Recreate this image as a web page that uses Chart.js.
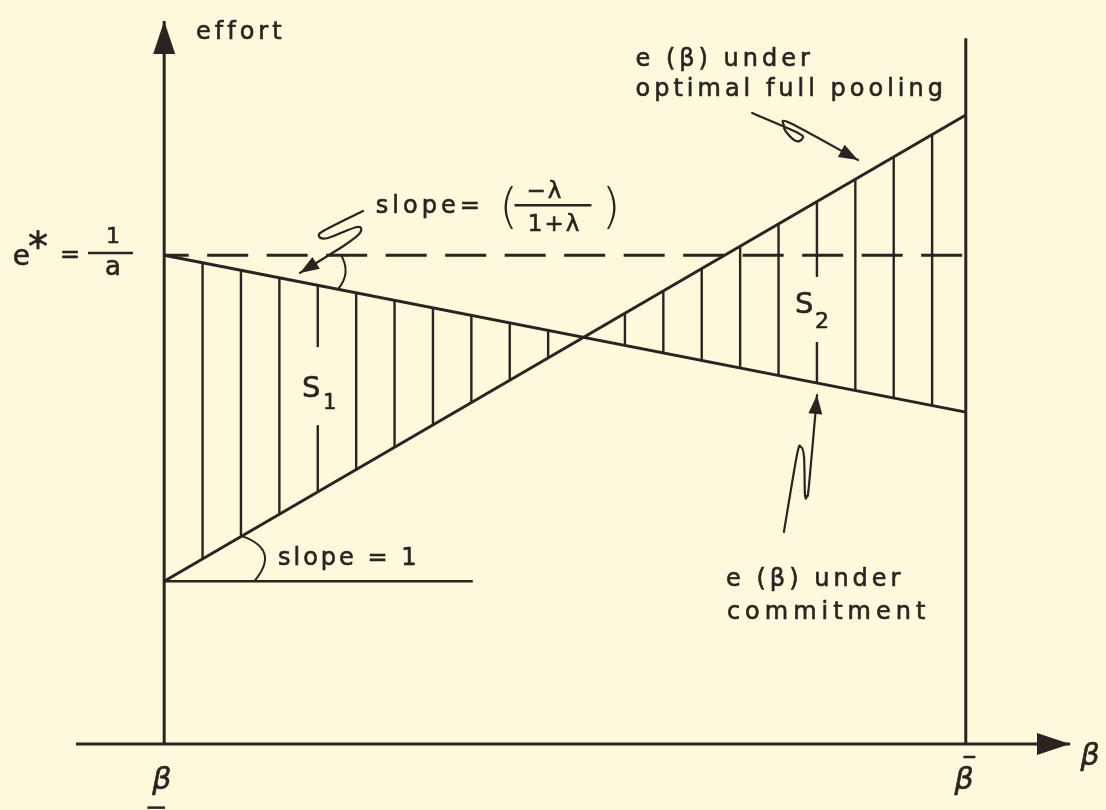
<!DOCTYPE html>
<html><head><meta charset="utf-8">
<script src="https://cdn.jsdelivr.net/npm/chart.js@4.4.0/dist/chart.umd.min.js"></script>
<style>html,body{margin:0;padding:0;background:#fcf9dc;}canvas{display:block;}</style>
</head><body>
<canvas id="c" width="1106" height="810"></canvas>
<script>
// ---------- data (β on x, effort on y) ----------
const betaRange     = [0, 100];        // β̲ … β̄
const eStarLevel    = [67.6, 67.6];    // e* = 1/a  (dashed)
const commitment    = [67.6, 45.9];    // e(β) under commitment, at β̲ and β̄
const pooling       = [22.5, 87.0];    // e(β) under optimal full pooling, at β̲ and β̄
const slopeOneBaseX = [0, 38.5];       // horizontal reference for "slope = 1"
const slopeOneBaseY = [22.5, 22.5];
const xAxisExtent   = [-11, 113];
const yAxisTop      = 100;
const rightWallTop  = 97.6;
const hatchStep     = 4.79;

// ---------- annotations (data units) ----------
const textLabels = [
  {t:'effort', x:3.97, y:97.5},
  {t:'e (β) under', x:58.8, y:93.8},
  {t:'optimal full pooling', x:58.8, y:89.6},
  {t:'e (β) under', x:70.1, y:21.9},
  {t:'commitment', x:70.2, y:17.3, sp:5},
  {t:'slope = 1', x:14.2, y:24.8, sp:3},
  {t:'slope=', x:26.4, y:73.4},
  {t:'(', x:41.8, y:72.0, size:48, sp:0, light:true},
  {t:')', x:54.6, y:72.0, size:48, sp:0, light:true},
  {t:'−λ', x:47.5, y:75.5, size:23, align:'center', sp:2},
  {t:'1+λ', x:48.7, y:70.9, size:23, align:'center', sp:2},
  {t:'e', x:-18.9, y:66.3, size:28, sp:0},
  {t:'*', x:-17.0, y:66.8, size:40, sp:0},
  {t:'=', x:-13.0, y:66.7, size:24, sp:0},
  {t:'1', x:-6.4, y:69.3, size:22, align:'center', sp:0},
  {t:'a', x:-6.4, y:64.9, size:26, align:'center', sp:0},
  {t:'β', x:-0.3, y:-6.2, size:30, align:'center', sp:0, italic:true},
  {t:'β', x:99.8, y:-6.2, size:30, align:'center', sp:0, italic:true},
  {t:'β', x:114.3, y:-2.9, size:30, sp:0, italic:true},
  {t:'S', x:17.2, y:48.0, size:29, sp:0},
  {t:'1', x:19.8, y:46.3, size:21, sp:0},
  {t:'S', x:78.7, y:59.6, size:29, sp:0},
  {t:'2', x:81.2, y:57.6, size:22, sp:0}
];
const barLines = [
  {x:[43.7, 53.3], y:[74.5, 74.5]},   // fraction bar -λ/(1+λ)
  {x:[-9.5, -3.9], y:[67.9, 67.9]},   // fraction bar 1/a
  {x:[-2.1, 0.1],  y:[-8.8, -8.8]},   // underline of β̲
  {x:[99.7, 101.2],y:[-1.8, -1.8]}    // bar of β̄
];
const hatchGaps = [
  {x:[16.9, 21.3], y:[54.9, 44.1]},
  {x:[78.4, 83.7], y:[64.6, 55.6]}
];
const leaders = [
  {x:[24.80,20.06,19.31,20.43,24.05,24.43,22.55,16.94], y:[73.72,71.09,70.26,69.99,71.51,70.68,69.02,65.15]},
  {x:[73.34,79.07,79.57,78.82,77.70,77.32,78.07,86.55], y:[87.27,84.51,83.68,83.40,84.51,85.48,85.89,80.77]},
  {x:[77.31,78.94,79.44,79.82,79.94,80.19,80.44,81.44], y:[29.32,39.97,41.08,39.70,34.44,34.30,35.82,48.27]}
];

const INK = '#2a231f', PAPER = '#fcf9dc';
const pts = (xs, ys) => xs.map((x, i) => ({x, y: ys[i]}));
const line = (data, extra) => Object.assign({data, showLine:true, borderColor:INK, borderWidth:3,
  pointRadius:0, fill:false, clip:false, tension:0}, extra || {});

const datasets = [
  line(pts(xAxisExtent, [0, 0])),
  line(pts([0, 0], [0, yAxisTop])),
  line(pts([betaRange[1], betaRange[1]], [0, rightWallTop])),
  line(pts(betaRange, eStarLevel), {borderDash:[41, 18.5], borderDashOffset:16.5}),
  line(pts(betaRange, commitment)),
  line(pts(betaRange, pooling)),
  line(pts(slopeOneBaseX, slopeOneBaseY), {borderWidth:2.5})
];

function P(chart, x, y){ return [chart.scales.x.getPixelForValue(x), chart.scales.y.getPixelForValue(y)]; }

function arrowHead(ctx, tip, from, len, hw){
  const dx = tip[0]-from[0], dy = tip[1]-from[1], d = Math.hypot(dx, dy);
  const ux = dx/d, uy = dy/d;
  const bx = tip[0]-ux*len, by = tip[1]-uy*len;
  ctx.beginPath();
  ctx.moveTo(tip[0], tip[1]);
  ctx.lineTo(bx - uy*hw, by + ux*hw);
  ctx.lineTo(bx + uy*hw, by - ux*hw);
  ctx.closePath(); ctx.fill();
}

function angleMark(ctx, v, d1, d2, r, bulge){
  const n1 = Math.hypot(d1[0], d1[1]), n2 = Math.hypot(d2[0], d2[1]);
  const a = [v[0]+d1[0]/n1*r, v[1]+d1[1]/n1*r];
  const b = [v[0]+d2[0]/n2*r, v[1]+d2[1]/n2*r];
  const m = [(a[0]+b[0])/2, (a[1]+b[1])/2];
  let ox = m[0]-v[0], oy = m[1]-v[1]; const on = Math.hypot(ox, oy); ox/=on; oy/=on;
  ctx.beginPath(); ctx.moveTo(a[0], a[1]);
  ctx.quadraticCurveTo(m[0]+ox*bulge*2, m[1]+oy*bulge*2, b[0], b[1]);
  ctx.stroke();
}

const hatchPlugin = {
  id:'hatch',
  beforeDatasetsDraw(chart){
    const {ctx, chartArea} = chart;
    const a = chart.getDatasetMeta(4).data, b = chart.getDatasetMeta(5).data;
    ctx.save();
    ctx.beginPath();
    a.forEach((p, i) => i ? ctx.lineTo(p.x, p.y) : ctx.moveTo(p.x, p.y));
    for (let i = b.length-1; i >= 0; i--) ctx.lineTo(b[i].x, b[i].y);
    ctx.closePath(); ctx.clip();
    ctx.strokeStyle = INK; ctx.lineWidth = 2.4;
    for (let k = 1; betaRange[0] + k*hatchStep < betaRange[1]; k++){
      const px = chart.scales.x.getPixelForValue(betaRange[0] + k*hatchStep);
      ctx.beginPath(); ctx.moveTo(px, chartArea.top); ctx.lineTo(px, chartArea.bottom); ctx.stroke();
    }
    ctx.restore();
    ctx.save(); ctx.fillStyle = PAPER;
    hatchGaps.forEach(g => {
      const p1 = P(chart, g.x[0], g.y[0]), p2 = P(chart, g.x[1], g.y[1]);
      ctx.fillRect(p1[0], p1[1], p2[0]-p1[0], p2[1]-p1[1]);
    });
    ctx.restore();
  }
};

const annoPlugin = {
  id:'anno',
  afterDatasetsDraw(chart){
    const ctx = chart.ctx;
    ctx.save();
    ctx.fillStyle = INK; ctx.strokeStyle = INK;
    const xt = P(chart, xAxisExtent[1], 0);
    arrowHead(ctx, xt, [xt[0]-10, xt[1]], 33, 11);
    const yt = P(chart, 0, yAxisTop);
    arrowHead(ctx, yt, [yt[0], yt[1]+10], 33, 11);
    ctx.lineWidth = 2;
    const v1 = P(chart, betaRange[0], eStarLevel[0]);
    const e1 = P(chart, betaRange[1], eStarLevel[1]);
    const c1 = P(chart, betaRange[1], commitment[1]);
    angleMark(ctx, v1, [e1[0]-v1[0], e1[1]-v1[1]], [c1[0]-v1[0], c1[1]-v1[1]], 177, 6);
    const v2 = P(chart, slopeOneBaseX[0], slopeOneBaseY[0]);
    const h2 = P(chart, slopeOneBaseX[1], slopeOneBaseY[1]);
    const p2 = P(chart, betaRange[1], pooling[1]);
    angleMark(ctx, v2, [p2[0]-v2[0], p2[1]-v2[1]], [h2[0]-v2[0], h2[1]-v2[1]], 90, 17);
    ctx.lineWidth = 2.5;
    barLines.forEach(bl => {
      const a = P(chart, bl.x[0], bl.y[0]), b = P(chart, bl.x[1], bl.y[1]);
      ctx.beginPath(); ctx.moveTo(a[0], a[1]); ctx.lineTo(b[0], b[1]); ctx.stroke();
    });
    ctx.lineWidth = 2.2; ctx.lineJoin = 'round'; ctx.lineCap = 'round';
    leaders.forEach(L => {
      const q = L.x.map((x, i) => P(chart, x, L.y[i]));
      ctx.beginPath(); ctx.moveTo(q[0][0], q[0][1]);
      for (let i = 0; i < q.length-1; i++){
        const p0 = q[i-1] || q[i], p1 = q[i], p2 = q[i+1], p3 = q[i+2] || q[i+1];
        ctx.bezierCurveTo(p1[0]+(p2[0]-p0[0])/6, p1[1]+(p2[1]-p0[1])/6,
                          p2[0]-(p3[0]-p1[0])/6, p2[1]-(p3[1]-p1[1])/6, p2[0], p2[1]);
      }
      ctx.stroke();
      arrowHead(ctx, q[q.length-1], q[q.length-2], 19, 7);
    });
    ctx.textBaseline = 'alphabetic';
    ctx.lineWidth = 0.6; ctx.lineJoin = 'round';
    textLabels.forEach(l => {
      const size = l.size || 24;
      ctx.font = (l.italic ? 'italic ' : '') + (l.light ? '200 ' : '') + size + 'px "DejaVu Sans"';
      ctx.textAlign = l.align || 'left';
      if ('letterSpacing' in ctx) ctx.letterSpacing = (l.sp === undefined ? 4 : l.sp) + 'px';
      const p = P(chart, l.x, l.y);
      ctx.fillText(l.t, p[0], p[1]);
      if (!l.light) ctx.strokeText(l.t, p[0], p[1]);
    });
    ctx.restore();
  }
};

new Chart(document.getElementById('c'), {
  type:'scatter',
  data:{datasets},
  options:{
    responsive:false, animation:false, devicePixelRatio:1,
    layout:{padding:{left:76, right:36, top:21, bottom:66}},
    plugins:{legend:{display:false}, tooltip:{enabled:false}},
    events:[],
    scales:{
      x:{type:'linear', min:xAxisExtent[0], max:xAxisExtent[1], display:false},
      y:{type:'linear', min:0, max:yAxisTop, display:false}
    }
  },
  plugins:[hatchPlugin, annoPlugin]
});
</script>
</body></html>
